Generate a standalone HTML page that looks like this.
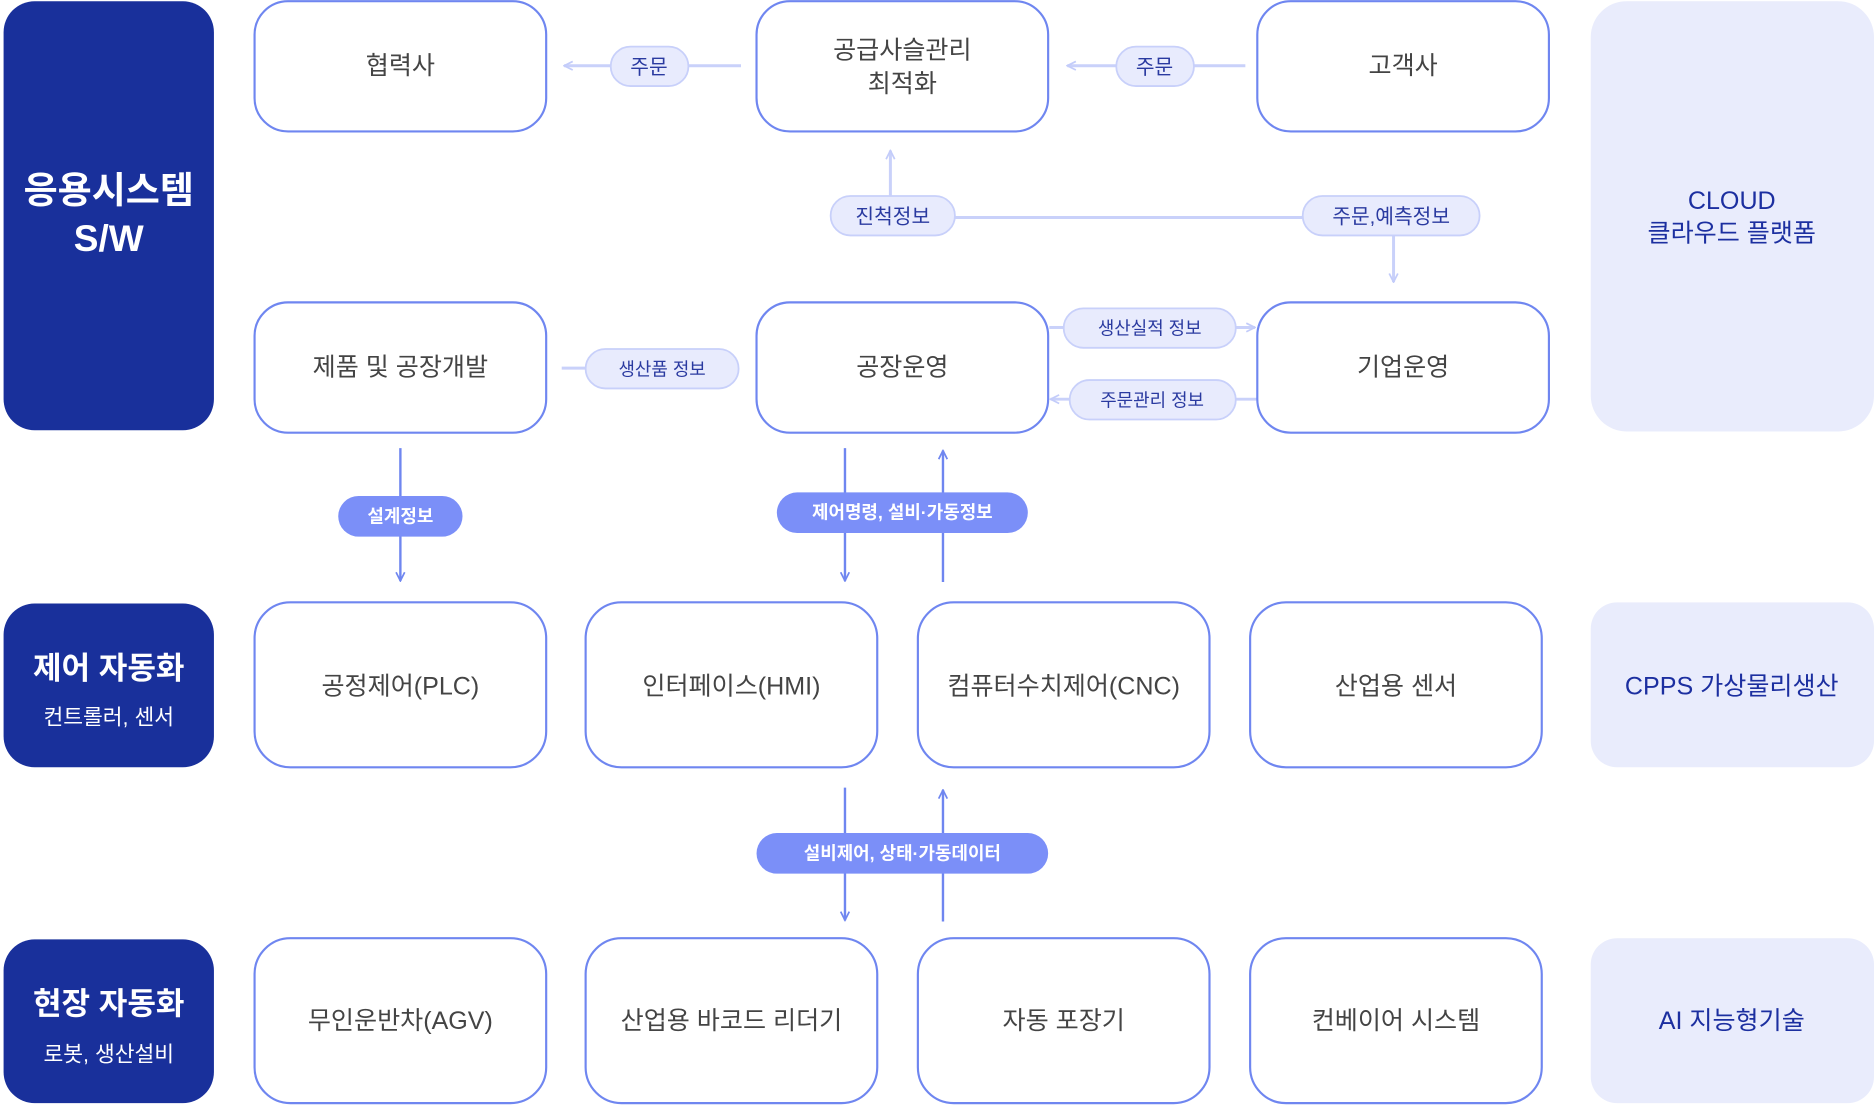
<!DOCTYPE html>
<html><head><meta charset="utf-8"><style>
html,body{margin:0;padding:0;background:#fff;}
svg{display:block;}
text{font-family:"Liberation Sans","Noto Sans CJK KR",sans-serif;}
</style></head><body>
<svg width="1874" height="1106" viewBox="0 0 1568 925.4" xmlns="http://www.w3.org/2000/svg">
<defs>
<marker id="al" viewBox="0 0 10 10" refX="9" refY="5" markerWidth="9" markerHeight="9" orient="auto-start-reverse" markerUnits="userSpaceOnUse"><path d="M1,1 L9,5 L1,9" fill="none" stroke="#c3ccfa" stroke-width="1.6"/></marker>
<marker id="ad" viewBox="0 0 10 10" refX="9" refY="5" markerWidth="9" markerHeight="9" orient="auto-start-reverse" markerUnits="userSpaceOnUse"><path d="M1,1 L9,5 L1,9" fill="none" stroke="#6f86f0" stroke-width="1.6"/></marker>
</defs>
<!-- left dark -->
<rect x="3" y="1" width="176" height="359" rx="26" fill="#19309b"/>
<rect x="3" y="505" width="176" height="137" rx="26" fill="#19309b"/>
<rect x="3" y="786" width="176" height="137" rx="26" fill="#19309b"/>
<text x="91" y="170" text-anchor="middle" fill="#fff" font-size="31" font-weight="bold">응용시스템</text>
<text x="91" y="210" text-anchor="middle" fill="#fff" font-size="31" font-weight="bold">S/W</text>
<text x="91" y="568" text-anchor="middle" fill="#fff" font-size="26" font-weight="bold">제어 자동화</text>
<text x="91" y="606" text-anchor="middle" fill="#fff" font-size="18">컨트롤러, 센서</text>
<text x="91" y="849" text-anchor="middle" fill="#fff" font-size="26" font-weight="bold">현장 자동화</text>
<text x="91" y="888" text-anchor="middle" fill="#fff" font-size="18">로봇, 생산설비</text>
<!-- right light -->
<rect x="1331" y="1" width="237" height="360" rx="30" fill="#e9ecfc"/>
<rect x="1331" y="504" width="237" height="138" rx="22" fill="#e9ecfc"/>
<rect x="1331" y="785" width="237" height="138" rx="22" fill="#e9ecfc"/>
<text x="1449" y="175" text-anchor="middle" fill="#1c2fa0" font-size="21">CLOUD</text>
<text x="1449" y="202" text-anchor="middle" fill="#1c2fa0" font-size="21">클라우드 플랫폼</text>
<text x="1449" y="581" text-anchor="middle" fill="#1c2fa0" font-size="21">CPPS 가상물리생산</text>
<text x="1449" y="861" text-anchor="middle" fill="#1c2fa0" font-size="21">AI 지능형기술</text>
<!-- light lines -->
<g stroke="#c9d1fa" stroke-width="2.5" fill="none">
<line x1="472" y1="55" x2="511" y2="55" marker-start="url(#al)"/>
<line x1="576" y1="55" x2="620" y2="55"/>
<line x1="893" y1="55" x2="934" y2="55" marker-start="url(#al)"/>
<line x1="999" y1="55" x2="1042" y2="55"/>
<line x1="745" y1="126" x2="745" y2="164" marker-start="url(#al)"/>
<line x1="799" y1="182" x2="1090" y2="182"/>
<line x1="1166" y1="197" x2="1166" y2="236" marker-end="url(#al)"/>
<line x1="878" y1="274" x2="890" y2="274"/>
<line x1="1034" y1="274" x2="1050" y2="274" marker-end="url(#al)"/>
<line x1="879" y1="334" x2="895" y2="334" marker-start="url(#al)"/>
<line x1="1034" y1="334" x2="1052" y2="334"/>
<line x1="470" y1="308" x2="490" y2="308"/>
</g>
<!-- dark lines -->
<g stroke="#6f86f0" stroke-width="2" fill="none">
<line x1="335" y1="375" x2="335" y2="486" marker-end="url(#ad)"/>
<line x1="707" y1="375" x2="707" y2="486" marker-end="url(#ad)"/>
<line x1="789" y1="377" x2="789" y2="487" marker-start="url(#ad)"/>
<line x1="707" y1="659" x2="707" y2="770" marker-end="url(#ad)"/>
<line x1="789" y1="661" x2="789" y2="771" marker-start="url(#ad)"/>
</g>
<!-- nodes -->
<g fill="#fff" stroke="#6f86f0" stroke-width="1.8">
<rect x="213" y="1" width="244" height="109" rx="28"/>
<rect x="633" y="1" width="244" height="109" rx="28"/>
<rect x="1052" y="1" width="244" height="109" rx="28"/>
<rect x="213" y="253" width="244" height="109" rx="28"/>
<rect x="633" y="253" width="244" height="109" rx="28"/>
<rect x="1052" y="253" width="244" height="109" rx="28"/>
<rect x="213" y="504" width="244" height="138" rx="30"/>
<rect x="490" y="504" width="244" height="138" rx="30"/>
<rect x="768" y="504" width="244" height="138" rx="30"/>
<rect x="1046" y="504" width="244" height="138" rx="30"/>
<rect x="213" y="785" width="244" height="138" rx="30"/>
<rect x="490" y="785" width="244" height="138" rx="30"/>
<rect x="768" y="785" width="244" height="138" rx="30"/>
<rect x="1046" y="785" width="244" height="138" rx="30"/>
</g>
<g fill="#444" font-size="21" text-anchor="middle">
<text x="335" y="62">협력사</text>
<text x="755" y="49">공급사슬관리</text>
<text x="755" y="77">최적화</text>
<text x="1174" y="62">고객사</text>
<text x="335" y="314">제품 및 공장개발</text>
<text x="755" y="314">공장운영</text>
<text x="1174" y="314">기업운영</text>
<text x="335" y="581">공정제어(PLC)</text>
<text x="612" y="581">인터페이스(HMI)</text>
<text x="890" y="581">컴퓨터수치제어(CNC)</text>
<text x="1168" y="581">산업용 센서</text>
<text x="335" y="861">무인운반차(AGV)</text>
<text x="612" y="861">산업용 바코드 리더기</text>
<text x="890" y="861">자동 포장기</text>
<text x="1168" y="861">컨베이어 시스템</text>
</g>
<!-- light pills -->
<g fill="#e8ebfd" stroke="#c8d0fa" stroke-width="1.5">
<rect x="511" y="39" width="65" height="33" rx="16.5"/>
<rect x="934" y="39" width="65" height="33" rx="16.5"/>
<rect x="695" y="164" width="104" height="33" rx="16.5"/>
<rect x="1090" y="164" width="148" height="33" rx="16.5"/>
<rect x="490" y="292" width="128" height="33" rx="16.5"/>
<rect x="890" y="258" width="144" height="33" rx="16.5"/>
<rect x="895" y="318" width="139" height="33" rx="16.5"/>
</g>
<g fill="#2a3aa0" font-size="17" text-anchor="middle">
<text x="543" y="62">주문</text>
<text x="966" y="62">주문</text>
<text x="747" y="187">진척정보</text>
<text x="1164" y="187">주문,예측정보</text>
<text x="554" y="314" font-size="15">생산품 정보</text>
<text x="962" y="280" font-size="15">생산실적 정보</text>
<text x="964" y="340" font-size="15">주문관리 정보</text>
</g>
<!-- dark pills -->
<g fill="#7b8ff8">
<rect x="283" y="415" width="104" height="34" rx="17"/>
<rect x="650" y="412" width="210" height="34" rx="17"/>
<rect x="633" y="697" width="244" height="34" rx="17"/>
</g>
<g fill="#fff" font-size="15" font-weight="bold" text-anchor="middle">
<text x="335" y="437">설계정보</text>
<text x="755" y="434">제어명령, 설비·가동정보</text>
<text x="755" y="719">설비제어, 상태·가동데이터</text>
</g>
</svg>
</body></html>
